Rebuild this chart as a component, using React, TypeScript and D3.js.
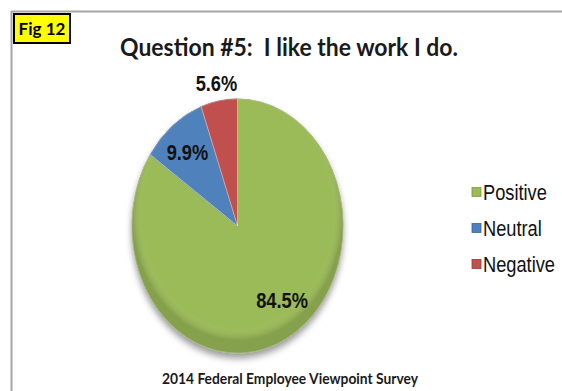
import React from "react";
import * as d3 from "d3";

const categories = ["Positive", "Neutral", "Negative"];
const values = [84.5, 9.9, 5.6];
const valueLabels = ["84.5%", "9.9%", "5.6%"];
const colors = ["#9BBB59", "#4F81BD", "#C0504D"];
const edgeColors = ["#7A9A3C", "#3A6599", "#9C3532"];
const titleText = "Question #5:  I like the work I do.";
const footerText = "2014 Federal Employee Viewpoint Survey";
const figText = "Fig 12";

const W = 562;
const H = 391;
const cx = 237.5;
const cy = 226;
const R = 105.5;
const yScale = 1.204;
const sx = 0.83;

export default function App() {
  const pie = d3.pie<number>().sort(null).value((d) => d);
  const arcs = pie(values);
  const arc = d3.arc<d3.PieArcDatum<number>>().innerRadius(0).outerRadius(R);
  const labelFactor = (v: number) => (v < 7 ? 1.14 : v > 50 ? 0.66 : 0.74);
  const labelNudge = [12, -2, 0];

  const legendY = d3.scalePoint<string>().domain(categories).range([192, 264]);

  return (
    <svg
      width={W}
      height={H}
      style={{ position: "absolute", left: 0, top: 0, background: "#fff" }}
    >
      <defs>
        <filter id="shadow" x="-20%" y="-20%" width="140%" height="150%">
          <feDropShadow dx="0" dy="4" stdDeviation="3" floodColor="#000" floodOpacity="0.4" />
        </filter>
        <radialGradient id="shade" cx="50%" cy="45%" r="50%">
          <stop offset="0%" stopColor="#fff" stopOpacity="0" />
          <stop offset="90%" stopColor="#fff" stopOpacity="0" />
          <stop offset="100%" stopColor="#000" stopOpacity="0.14" />
        </radialGradient>
      </defs>

      {/* frame */}
      <line x1={11} y1={11.5} x2={W} y2={11.5} stroke="#A6A6A6" strokeWidth={2} />
      <line x1={11.5} y1={11} x2={11.5} y2={H} stroke="#A6A6A6" strokeWidth={2} />

      {/* fig box */}
      <rect x={14} y={14} width={56} height={29} fill="#FFFF00" stroke="#000" strokeWidth={2} />
      <text
        x={42}
        y={34.5}
        textAnchor="middle"
        fontFamily="Lato, 'Open Sans', sans-serif"
        fontWeight="bold"
        fontSize={17}
        fill="#000"
      >
        {figText}
      </text>

      {/* title */}
      <text
        x={289}
        y={56}
        textAnchor="middle"
        fontFamily="Lato, 'Open Sans', sans-serif"
        fontWeight="bold"
        fontSize={25}
        fill="#1a1a1a"
        textLength={338}
        lengthAdjust="spacingAndGlyphs"
        style={{ whiteSpace: "pre" }}
      >
        {titleText}
      </text>

      {/* pie */}
      <g transform={`translate(${cx},${cy}) scale(1,${yScale})`}>
        <g filter="url(#shadow)">
          {arcs.map((a, i) => (
            <path
              key={i}
              d={arc(a) || ""}
              fill={colors[i]}
              stroke={edgeColors[i]}
              strokeWidth={1}
              vectorEffect="non-scaling-stroke"
            />
          ))}
        </g>
        <circle r={R} fill="url(#shade)" />
        {arcs.map((a, i) => (
          <path
            key={"w" + i}
            d={arc(a) || ""}
            fill="none"
            stroke="rgba(255,255,255,0.35)"
            strokeWidth={1}
            vectorEffect="non-scaling-stroke"
          />
        ))}
      </g>

      {/* value labels */}
      {arcs.map((a, i) => {
        const mid = (a.startAngle + a.endAngle) / 2;
        const r = R * labelFactor(a.data);
        const x = cx + Math.sin(mid) * r + labelNudge[i];
        const y = cy - Math.cos(mid) * r * yScale;
        return (
          <text
            key={"l" + i}
            transform={`translate(${x},${y}) scale(${sx},1)`}
            textAnchor="middle"
            dy="0.36em"
            fontFamily="'Liberation Sans', Arial, sans-serif"
            fontWeight="bold"
            fontSize={22}
            fill="#111"
          >
            {valueLabels[i]}
          </text>
        );
      })}

      {/* legend */}
      {categories.map((c, i) => {
        const y = legendY(c) as number;
        return (
          <g key={c}>
            <rect x={472} y={y - 4.5} width={9} height={9} fill={colors[i]} stroke={edgeColors[i]} strokeWidth={0.8} />
            <text
              transform={`translate(483,${y}) scale(${sx},1)`}
              dy="0.36em"
              fontFamily="'Liberation Sans', Arial, sans-serif"
              fontSize={22}
              fill="#111"
            >
              {c}
            </text>
          </g>
        );
      })}

      {/* footer */}
      <text
        x={290}
        y={384}
        textAnchor="middle"
        fontFamily="Lato, 'Open Sans', sans-serif"
        fontWeight="bold"
        fontSize={15}
        fill="#1a1a1a"
        textLength={256}
        lengthAdjust="spacingAndGlyphs"
      >
        {footerText}
      </text>
    </svg>
  );
}
